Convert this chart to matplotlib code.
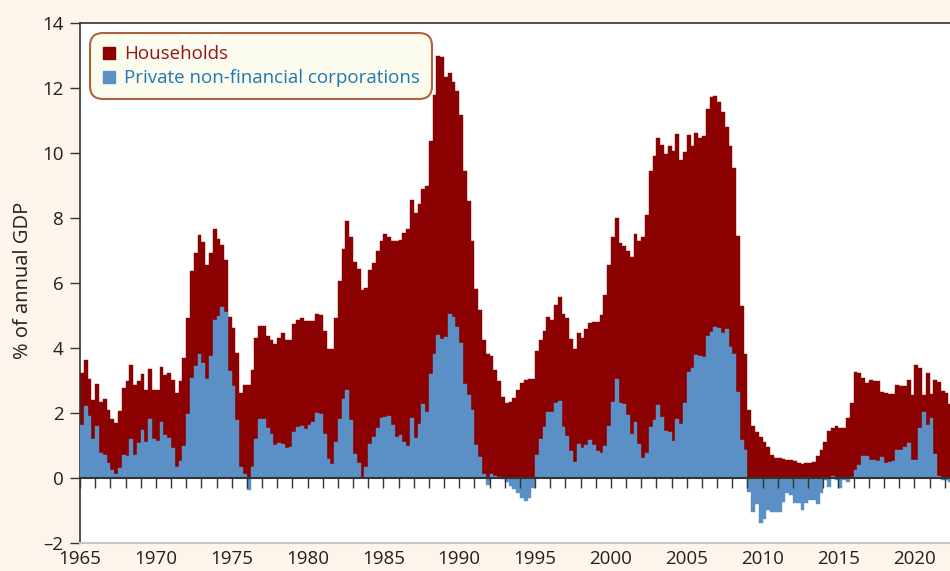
import matplotlib
matplotlib.use("Agg")
import matplotlib.pyplot as plt
from matplotlib.lines import Line2D
from matplotlib.ticker import FuncFormatter
import numpy as np

plt.rcParams['font.family'] = ['Open Sans', 'DejaVu Sans']

# Quarterly data starting 1965 Q1 (% of annual GDP)
start_year = 1965
households = [
    3.23, 3.62, 3.06, 2.41, 2.90, 2.34, 2.44, 2.08, 1.83, 1.69,
    2.05, 2.77, 2.97, 3.49, 2.85, 3.00, 3.21, 2.72, 3.36, 2.72,
    2.70, 3.42, 3.16, 3.24, 3.03, 2.62, 3.00, 3.70, 4.93, 6.36,
    6.93, 7.47, 7.26, 6.56, 6.93, 7.66, 7.34, 7.16, 6.72, 4.96,
    4.62, 3.85, 2.63, 2.85, 2.85, 3.32, 4.30, 4.68, 4.68, 4.38,
    4.26, 4.11, 4.31, 4.46, 4.26, 4.24, 4.75, 4.87, 4.93, 4.83,
    4.84, 4.83, 5.04, 5.03, 4.52, 3.97, 3.97, 4.93, 6.05, 7.04,
    7.91, 7.42, 6.64, 6.44, 5.79, 5.86, 6.39, 6.63, 7.00,
    7.29, 7.52, 7.42, 7.28, 7.28, 7.33, 7.54, 7.67, 8.56, 8.16,
    8.44, 8.90, 8.97, 10.36, 11.77, 13.00, 12.95, 12.34, 12.46, 12.18,
    11.91, 11.16, 9.44, 8.51, 7.29, 5.83, 5.16, 4.24, 3.83, 3.75,
    3.31, 2.97, 2.49, 2.32, 2.34, 2.46, 2.72, 2.92, 3.01, 3.06,
    3.06, 3.90, 4.26, 4.52, 4.95, 4.87, 5.31, 5.57,
    5.04, 4.91, 4.27, 3.96, 4.45, 4.30, 4.57, 4.78, 4.79, 4.79,
    5.01, 5.63, 6.54, 7.41, 7.99, 7.24, 7.14, 6.98, 6.81, 7.51,
    7.30, 7.43, 8.09, 9.46, 9.90, 10.45, 10.24, 9.97, 10.22, 10.06,
    10.58, 9.78, 10.04, 10.55, 10.22, 10.61, 10.47, 10.52, 11.34, 11.71,
    11.75, 11.56, 11.27, 10.81, 10.23, 9.55, 7.46, 5.30, 3.82, 2.09,
    1.61, 1.41, 1.25, 1.10, 0.96,
    0.71, 0.61, 0.61, 0.58, 0.55, 0.55, 0.52, 0.45, 0.42, 0.45,
    0.45, 0.50, 0.68, 0.86, 1.12, 1.46, 1.55, 1.60, 1.53, 1.53,
    1.84, 2.30, 3.27, 3.24, 3.09, 2.91, 3.02, 3.00, 3.00, 2.66,
    2.61, 2.58, 2.58, 2.86, 2.83, 2.83, 3.02, 2.55, 3.48, 3.37,
    2.55, 3.24, 2.58, 3.02, 2.96, 2.68, 2.61, 2.28,
]
corporations = [
    1.62, 2.22, 1.90, 1.20, 1.59, 0.78, 0.72, 0.45, 0.24, 0.11,
    0.31, 0.70, 0.68, 1.19, 0.71, 1.08, 1.49, 1.11, 1.81, 1.19,
    1.14, 1.72, 1.31, 1.24, 0.93, 0.34, 0.52, 1.00, 1.96, 3.09,
    3.44, 3.83, 3.54, 3.04, 3.74, 4.85, 5.00, 5.26, 5.11, 3.28,
    2.82, 1.77, 0.34, 0.13, -0.38, 0.34, 1.21, 1.81, 1.81, 1.55,
    1.36, 1.03, 1.09, 1.06, 0.91, 0.95, 1.42, 1.57, 1.60, 1.51,
    1.62, 1.72, 2.00, 1.98, 1.36, 0.59, 0.44, 1.11, 1.83, 2.44,
    2.72, 1.77, 0.75, 0.47, 0.00, 0.34, 1.04, 1.26, 1.54,
    1.86, 1.88, 1.90, 1.62, 1.26, 1.31, 1.11, 1.00, 1.86, 1.24,
    1.65, 2.29, 2.03, 3.21, 3.83, 4.39, 4.27, 4.34, 5.06, 4.95,
    4.65, 4.16, 2.90, 2.54, 2.08, 1.03, 0.65, 0.13, -0.23, 0.13,
    0.06, 0.03, -0.02, -0.12, -0.25, -0.35, -0.45, -0.60, -0.70, -0.60,
    -0.30, 0.70, 1.21, 1.57, 2.03, 2.03, 2.31, 2.37,
    1.58, 1.30, 0.83, 0.50, 1.05, 0.93, 1.02, 1.17, 1.02, 0.84,
    0.78, 0.98, 1.60, 2.35, 3.04, 2.32, 2.28, 1.94, 1.34, 1.71,
    1.04, 0.63, 0.78, 1.58, 1.78, 2.25, 1.87, 1.46, 1.43, 1.15,
    1.82, 1.65, 2.32, 3.27, 3.37, 3.78, 3.75, 3.73, 4.37, 4.50,
    4.64, 4.61, 4.47, 4.57, 4.04, 3.82, 2.66, 1.17, 0.86, -0.42,
    -1.04, -0.80, -1.37, -1.27, -0.98,
    -1.04, -1.04, -1.04, -0.73, -0.45, -0.52, -0.76, -0.76, -0.98, -0.78,
    -0.68, -0.68, -0.80, -0.47, -0.06, -0.29, 0.06, -0.06, -0.32, -0.06,
    -0.11, 0.02, 0.25, 0.40, 0.69, 0.69, 0.55, 0.55, 0.53, 0.64,
    0.45, 0.50, 0.52, 0.86, 0.86, 0.96, 1.07, 0.55, 0.55, 1.53,
    2.02, 1.63, 1.84, 0.73, 0.06, -0.06, -0.06, -0.11,
]
year_ticks = [1965, 1970, 1975, 1980, 1985, 1990, 1995, 2000, 2005, 2010, 2015, 2020]
y_ticks = [-2, 0, 2, 4, 6, 8, 10, 12, 14]
series_labels = ["Households", "Private non-financial corporations"]

RED = "#8b0000"
BLUE = "#5b90c6"
BG = "#fdf5ec"
TXT = "#231f20"

x = start_year + 0.25 * np.arange(len(households))

fig = plt.figure(figsize=(9.5, 5.71), dpi=100, facecolor=BG)
ax = fig.add_axes([80 / 950, 28 / 571, 870 / 950, 520 / 571])
ax.set_facecolor("white")

ax.bar(x, households, width=0.25, align="edge", color=RED,
       edgecolor=RED, linewidth=0.3, zorder=2)
ax.bar(x, corporations, width=0.25, align="edge", color=BLUE,
       edgecolor=BLUE, linewidth=0.3, zorder=3)

ax.set_xlim(1965, 1965 + 870 / 15.17)
ax.set_ylim(-2, 14)
ax.set_yticks(y_ticks)
ax.yaxis.set_major_formatter(FuncFormatter(lambda v, p: f"{v:g}".replace("-", "\u2013")))
ax.set_xticks(year_ticks)
ax.tick_params(axis="x", length=0, pad=5, labelsize=13.5, colors=TXT)
ax.tick_params(axis="y", direction="out", length=7, width=1, pad=5,
               labelsize=13.5, colors="#333333", labelcolor=TXT)

for s in ["left", "top"]:
    ax.spines[s].set_color("#333333")
    ax.spines[s].set_linewidth(1.2)
ax.spines["right"].set_visible(False)
ax.spines["bottom"].set_color("#c8c8c8")
ax.spines["bottom"].set_linewidth(1.5)

# zero line with yearly ticks hanging below
sec = ax.secondary_xaxis((0 - (-2)) / (14 - (-2)))
sec.set_xticks(np.arange(1965, 2023))
sec.tick_params(axis="x", direction="out", length=7, width=1.0, color="#333333",
                labelbottom=False, labeltop=False)
sec.spines["bottom"].set_color("#333333")
sec.spines["bottom"].set_linewidth(1.5)
sec.set_zorder(5)

ax.set_ylabel("% of annual GDP", fontsize=14.5, color=TXT)
ax.yaxis.set_label_coords(-0.054, 0.506)

handles = [Line2D([], [], marker="s", linestyle="", markersize=8, color=RED),
           Line2D([], [], marker="s", linestyle="", markersize=8, color=BLUE)]
leg = ax.legend(handles, series_labels, loc="upper left",
                bbox_to_anchor=(0.0115, 0.981), borderaxespad=0,
                fontsize=13.5, frameon=True, fancybox=True,
                handlelength=0.7, handletextpad=0.45, labelspacing=0.32,
                borderpad=0.65, framealpha=1)
leg.get_frame().set_facecolor("#fbfbee")
leg.get_frame().set_edgecolor("#b0623c")
leg.get_frame().set_linewidth(1.5)
leg.get_frame().set_boxstyle("round,pad=0,rounding_size=0.7")
leg.texts[0].set_color("#9a1414")
leg.texts[1].set_color("#1f78b4")
leg.set_zorder(6)

fig.savefig("out.png", dpi=100, facecolor=BG)
